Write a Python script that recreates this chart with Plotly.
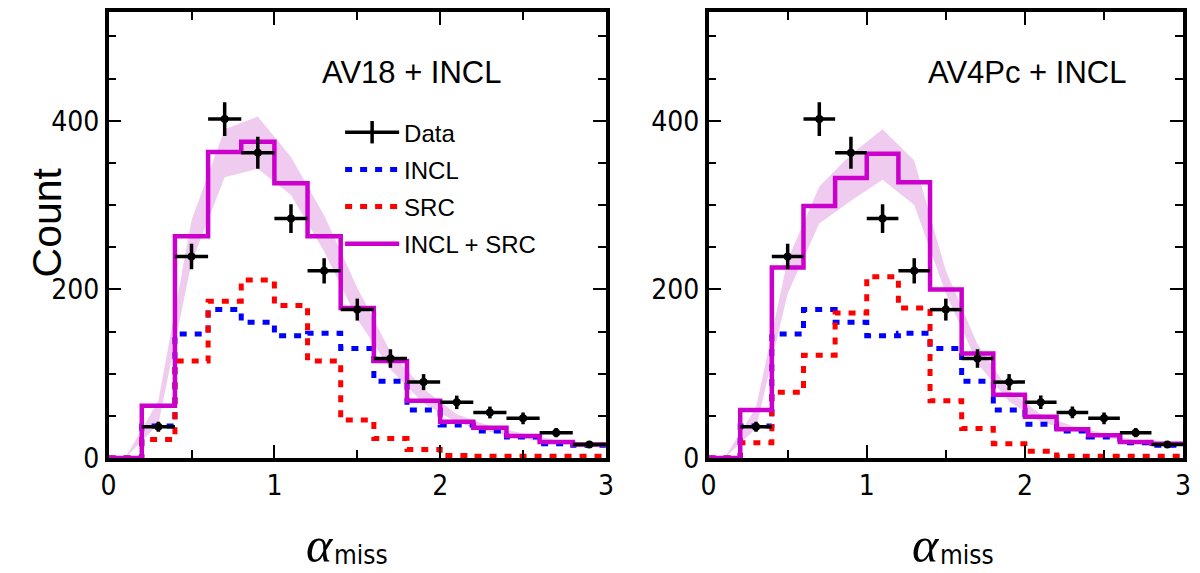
import plotly.graph_objects as go

# ---------------- data ----------------
bin_edges = [0.0, 0.2, 0.4, 0.6, 0.8, 1.0, 1.2, 1.4, 1.6, 1.8, 2.0, 2.2, 2.4, 2.6, 2.8, 3.0]
bin_centers = [0.1, 0.3, 0.5, 0.7, 0.9, 1.1, 1.3, 1.5, 1.7, 1.9, 2.1, 2.3, 2.5, 2.7, 2.9]

data_x = [0.3, 0.5, 0.7, 0.9, 1.1, 1.3, 1.5, 1.7, 1.9, 2.1, 2.3, 2.5, 2.7, 2.9]
data_y = [37, 239, 402, 362, 284, 222, 176, 118, 90, 66, 54, 47, 30, 16]
data_err = [6, 15, 20, 19, 17, 15, 13, 11, 9.5, 8, 7, 7, 5.5, 4]

# AV18 + INCL
av18_incl = [0, 38, 147, 176, 161, 145, 148, 130, 91, 57, 39, 32, 25, 17, 15]
av18_src = [0, 22, 115, 186, 211, 181, 115, 45, 23, 10, 3, 2, 2, 2, 2]
av18_sum = [0, 62, 263, 363, 375, 326, 263, 178, 115, 68, 43, 36, 26, 19, 16]
av18_band_lo = [0, 40, 232, 333, 343, 312, 245, 165, 105, 65, 42, 31, 23, 17, 14]
av18_band_hi = [0, 68, 282, 390, 405, 357, 288, 202, 126, 82, 52, 38, 29, 21, 17]

# AV4Pc + INCL
av4_incl = [0, 38, 147, 176, 161, 145, 148, 130, 91, 57, 40, 32, 25, 18, 15]
av4_src = [0, 18, 78, 122, 172, 215, 178, 68, 35, 17, 8, 2, 2, 2, 2]
av4_sum = [0, 57, 226, 299, 332, 361, 327, 200, 124, 75, 49, 34, 27, 19, 17]
av4_band_lo = [0, 35, 195, 278, 305, 330, 300, 195, 112, 67, 43, 32, 25, 18, 15]
av4_band_hi = [0, 60, 235, 322, 360, 390, 353, 222, 135, 80, 52, 38, 29, 21, 17]

panel_labels = ["AV18 + INCL", "AV4Pc + INCL"]
x_ticks = [0, 1, 2, 3]
y_ticks = [0, 200, 400]

MAGENTA = "#CC00CC"
BLUE = "#0000FF"
RED = "#FF0000"
BAND = "rgba(228,160,228,0.55)"
SANS = "Liberation Sans Narrow, DejaVu Sans Condensed, Arial Narrow, Liberation Sans, Arial"
SANS2 = "Liberation Sans, Arial, Helvetica"
SERIF = "Liberation Serif, DejaVu Serif, Times New Roman, serif"

fig = go.Figure()


def step(vals):
    return bin_edges, list(vals) + [vals[-1]]


def add_panel(xa, ya, incl, src, tot, lo, hi, show):
    fig.add_trace(go.Scatter(
        x=bin_centers + bin_centers[::-1], y=lo + hi[::-1],
        fill="toself", fillcolor=BAND, line=dict(width=0), mode="lines",
        hoverinfo="skip", showlegend=False, xaxis=xa, yaxis=ya))
    sx, sy = step(incl)
    fig.add_trace(go.Scatter(x=sx, y=sy, mode="lines", line_shape="hv",
                             line=dict(color=BLUE, width=5, dash="7px,8px"),
                             name="INCL", showlegend=show, legendgroup="b",
                             xaxis=xa, yaxis=ya))
    sx, sy = step(src)
    fig.add_trace(go.Scatter(x=sx, y=sy, mode="lines", line_shape="hv",
                             line=dict(color=RED, width=5, dash="7px,8px"),
                             name="SRC", showlegend=show, legendgroup="c",
                             xaxis=xa, yaxis=ya))
    sx, sy = step(tot)
    fig.add_trace(go.Scatter(x=sx, y=sy, mode="lines", line_shape="hv",
                             line=dict(color=MAGENTA, width=4.5),
                             name="INCL + SRC", showlegend=show, legendgroup="d",
                             xaxis=xa, yaxis=ya))
    fig.add_trace(go.Scatter(
        x=data_x, y=data_y, mode="markers",
        marker=dict(color="black", size=8),
        error_y=dict(type="data", array=data_err, color="black", thickness=3.5, width=0),
        error_x=dict(type="constant", value=0.1, color="black", thickness=3.5, width=0),
        showlegend=False, xaxis=xa, yaxis=ya))


# legend-only entry for data (line with vertical bar)
fig.add_trace(go.Scatter(
    x=[None], y=[None], mode="lines+markers", name="Data", legendgroup="a",
    line=dict(color="black", width=3.5),
    marker=dict(symbol="line-ns-open", size=20, line=dict(color="black", width=3.5), color="black"),
    xaxis="x", yaxis="y"))

add_panel("x", "y", av18_incl, av18_src, av18_sum, av18_band_lo, av18_band_hi, True)
add_panel("x2", "y2", av4_incl, av4_src, av4_sum, av4_band_lo, av4_band_hi, False)

axis_common = dict(
    showline=True, linecolor="black", linewidth=3.5, mirror="ticks",
    ticks="inside", ticklen=13, tickwidth=2, tickcolor="black",
    showgrid=False, zeroline=False,
    tickfont=dict(family=SANS, size=28, color="black"),
)

fig.update_layout(
    width=1200, height=573,
    margin=dict(l=0, r=0, t=12, b=115),
    plot_bgcolor="white", paper_bgcolor="white",
    xaxis=dict(domain=[0.085, 0.505], range=[0, 3], tickvals=x_ticks,
               minor=dict(ticks="inside", ticklen=8, tickwidth=1.5, dtick=0.5, tickcolor="black"),
               anchor="y", **axis_common),
    yaxis=dict(domain=[0, 1], range=[0, 529], tickvals=y_ticks,
               minor=dict(ticks="inside", ticklen=8, tickwidth=1.5, dtick=50, tickcolor="black"),
               anchor="x", **axis_common),
    xaxis2=dict(domain=[0.5917, 0.9925], range=[0, 3], tickvals=x_ticks,
                minor=dict(ticks="inside", ticklen=8, tickwidth=1.5, dtick=0.5, tickcolor="black"),
                anchor="y2", **axis_common),
    yaxis2=dict(domain=[0, 1], range=[0, 529], tickvals=y_ticks,
                minor=dict(ticks="inside", ticklen=8, tickwidth=1.5, dtick=50, tickcolor="black"),
                anchor="x2", **axis_common),
    legend=dict(x=0.2805, y=0.78, xanchor="left", yanchor="top",
                bgcolor="rgba(0,0,0,0)", itemwidth=54, tracegroupgap=3,
                font=dict(family=SANS2, size=24, color="black")),
    showlegend=True,
)


def ypaper(py):
    return (458 - py) / 446


# panel labels
fig.add_annotation(text=panel_labels[0], xref="paper", yref="paper",
                   x=409 / 1200, y=ypaper(72), xanchor="center", yanchor="middle",
                   showarrow=False, font=dict(family=SANS2, size=31, color="black"))
fig.add_annotation(text=panel_labels[1], xref="paper", yref="paper",
                   x=1033 / 1200, y=ypaper(72), xanchor="center", yanchor="middle",
                   showarrow=False, font=dict(family=SANS2, size=31, color="black"))

# axis titles
fig.add_annotation(text="Count", xref="paper", yref="paper",
                   x=40 / 1200, y=ypaper(222), xanchor="center", yanchor="middle",
                   textangle=-90, showarrow=False,
                   font=dict(family=SANS2, size=41, color="black"))
for ax_px in (331, 946):
    fig.add_annotation(text="<i>α</i>", xref="paper", yref="paper",
                       x=(ax_px + 1) / 1200, y=ypaper(545), xanchor="right", yanchor="middle",
                       showarrow=False, font=dict(family=SERIF, size=50, color="black"))
    fig.add_annotation(text="miss", xref="paper", yref="paper",
                       x=(ax_px - 3) / 1200, y=ypaper(555), xanchor="left", yanchor="middle",
                       showarrow=False, font=dict(family=SANS, size=26, color="black"))

fig.write_html("out.html")
